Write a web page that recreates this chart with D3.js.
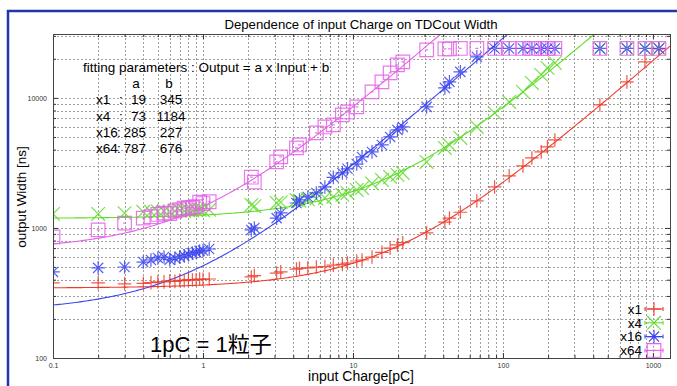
<!DOCTYPE html>
<html>
<head>
<meta charset="utf-8">
<script src="https://cdn.jsdelivr.net/npm/d3@7/dist/d3.min.js"></script>
<style>
  html, body { margin: 0; padding: 0; background: #fff; }
  svg { display: block; font-family: "Liberation Sans", Arial, Helvetica, sans-serif; }
</style>
</head>
<body>
<div id="chart"></div>
<script>
// input charge [pC], shared by all four gain settings
const charges = [0.1, 0.2, 0.3, 0.4, 0.45, 0.5, 0.55, 0.6, 0.65, 0.7, 0.75, 0.8, 0.85, 0.9, 0.95, 1.0, 1.1,
  2.1, 2.2, 3.1, 3.3, 4.2, 4.4, 5.0, 5.7, 6.5, 7.4, 8.5, 9.2, 10.6, 11.5, 13.4, 15.6, 17.7, 19.8, 21.5,
  31, 41, 44, 52, 67, 88, 110, 136, 156, 180, 198, 222, 443, 671, 885, 1097];

// output width [ns]
const widthX1 = [378, 378, 372, 375, 380, 385, 385, 390, 388, 395, 393, 400, 398, 400, 405, 402, 405,
  420, 430, 450, 460, 483, 490, 493, 500, 505, 518, 525, 537, 557, 567, 598, 650, 700, 740, 770,
  915, 1110, 1190, 1320, 1613, 2066, 2514, 3000, 3455, 3843, 4200, 4750, 8830, 13280, 18920, 23800];
const widthX4 = [1282, 1282, 1300, 1330, 1330, 1340, 1350, 1340, 1350, 1360, 1350, 1370, 1360, 1370, 1380, 1370, 1380,
  1503, 1470, 1556, 1580, 1642, 1620, 1660, 1680, 1700, 1740, 1800, 1858, 1960, 2030, 2200, 2340, 2468, 2560, 2650,
  3220, 4125, 4347, 4920, 5980, 7670, 9310, 11120, 13040, 15030, 17010, 18580, 24000, 24000, 24000, 24000];
const widthX16 = [459, 493, 501, 547, 567, 588, 598, 570, 585, 598, 610, 625, 640, 650, 665, 670, 689,
  965, 1000, 1190, 1304, 1556, 1642, 1731, 1858, 2066, 2450, 2650, 2850, 3100, 3518, 3843, 4347, 5010, 5670, 5980,
  8530, 11940, 13280, 15850, 20660, 24000, 24000, 24000, 24000, 24000, 24000, 24000, 24000, 24000, 24000, 24000];
const widthX64 = [853, 966, 1090, 1190, 1220, 1270, 1300, 1290, 1350, 1380, 1420, 1430, 1440, 1460, 1580, 1540, 1590,
  2457, 2250, 3220, 3518, 4125, 4347, null, 5380, 5980, 6200, 7400, 7800, 8530, null, 11120, 13280, 15570, 17930, 18920,
  23400, 23800, 23800, 24000, 24000, 24000, 24000, 24000, 24000, 24000, 24000, 24000, 24000, 24000, 24000, 24000];

const seriesNames = ['x1', 'x4', 'x16', 'x64'];
const seriesColors = ['#ee3b2b', '#5fdc2a', '#3a44ee', '#e660ea'];
const seriesMarkers = ['plus', 'cross', 'star', 'square'];
const seriesValues = [widthX1, widthX4, widthX16, widthX64];

// fitting parameters : Output = a x Input + b
const fitA = [19, 73, 285, 787];
const fitB = [345, 1184, 227, 676];

const xTicks = [0.1, 1, 10, 100, 1000];
const yTicks = [100, 1000, 10000];

const W = 677, H = 386;
const margin = { top: 34, right: 7, bottom: 28, left: 53 };
const xDomain = [0.1, 1300];
const yDomain = [100, 31000];

const svg = d3.select('#chart').append('svg')
  .attr('width', W)
  .attr('height', H);

// blue slide frame
svg.append('rect')
  .attr('x', 8).attr('y', 11)
  .attr('width', W + 20).attr('height', H + 20)
  .attr('fill', 'none')
  .attr('stroke', '#2236a8')
  .attr('stroke-width', 2.5);

const x = d3.scaleLog().domain(xDomain).range([margin.left, W - margin.right]);
const y = d3.scaleLog().domain(yDomain).range([H - margin.bottom, margin.top]);

const minorOf = (domain) => {
  const out = [];
  for (let d = domain[0]; d < domain[1]; d *= 10) {
    for (let k = 2; k <= 9; k++) {
      const v = +(k * d).toPrecision(6);
      if (v <= domain[1]) out.push(v);
    }
  }
  return out;
};
const xMinor = minorOf(xDomain);
const yMinor = minorOf(yDomain);

// grid
const grid = svg.append('g')
  .attr('stroke', '#a0a0a0')
  .attr('stroke-width', 1)
  .attr('stroke-dasharray', '2,2');

grid.selectAll('.gx')
  .data(xTicks.concat(xMinor).filter(v => v > xDomain[0]))
  .enter().append('line')
  .attr('x1', d => Math.round(x(d)) + 0.5).attr('x2', d => Math.round(x(d)) + 0.5)
  .attr('y1', y.range()[1]).attr('y2', y.range()[0]);

grid.selectAll('.gy')
  .data(yTicks.concat(yMinor).filter(v => v > yDomain[0]))
  .enter().append('line')
  .attr('y1', d => Math.round(y(d)) + 0.5).attr('y2', d => Math.round(y(d)) + 0.5)
  .attr('x1', x.range()[0]).attr('x2', x.range()[1]);

// axes (ticks pointing inwards, mirrored)
const fmt = d => (d < 1 ? d3.format('.1f')(d) : d3.format('d')(d));
const plotW = x.range()[1] - x.range()[0];
const plotH = y.range()[0] - y.range()[1];

const styleAxis = g => {
  g.select('.domain').remove();
  g.selectAll('line').attr('stroke', '#333');
  g.selectAll('text').attr('font-size', '7px').attr('fill', '#333')
    .attr('font-family', '"Liberation Sans", Arial, sans-serif');
};

svg.append('g')
  .attr('transform', `translate(0,${y.range()[0]})`)
  .call(d3.axisBottom(x).tickValues(xTicks).tickSize(-5).tickPadding(5).tickFormat(fmt))
  .call(styleAxis);
svg.append('g')
  .attr('transform', `translate(0,${y.range()[0]})`)
  .call(d3.axisBottom(x).tickValues(xMinor).tickSize(-3).tickFormat(''))
  .call(styleAxis);
svg.append('g')
  .attr('transform', `translate(0,${y.range()[1]})`)
  .call(d3.axisTop(x).tickValues(xTicks).tickSize(-5).tickFormat(''))
  .call(styleAxis);
svg.append('g')
  .attr('transform', `translate(0,${y.range()[1]})`)
  .call(d3.axisTop(x).tickValues(xMinor).tickSize(-3).tickFormat(''))
  .call(styleAxis);

svg.append('g')
  .attr('transform', `translate(${x.range()[0]},0)`)
  .call(d3.axisLeft(y).tickValues(yTicks).tickSize(-5).tickPadding(6).tickFormat(fmt))
  .call(styleAxis);
svg.append('g')
  .attr('transform', `translate(${x.range()[0]},0)`)
  .call(d3.axisLeft(y).tickValues(yMinor).tickSize(-3).tickFormat(''))
  .call(styleAxis);
svg.append('g')
  .attr('transform', `translate(${x.range()[1]},0)`)
  .call(d3.axisRight(y).tickValues(yTicks).tickSize(-5).tickFormat(''))
  .call(styleAxis);
svg.append('g')
  .attr('transform', `translate(${x.range()[1]},0)`)
  .call(d3.axisRight(y).tickValues(yMinor).tickSize(-3).tickFormat(''))
  .call(styleAxis);

// clip for curves
svg.append('clipPath').attr('id', 'plot-clip')
  .append('rect')
  .attr('x', x.range()[0]).attr('y', y.range()[1])
  .attr('width', plotW).attr('height', plotH);

const plot = svg.append('g').attr('clip-path', 'url(#plot-clip)');

// fit lines, evaluated from the fitting parameters
const fitX = d3.range(0, 301).map(i => xDomain[0] * Math.pow(xDomain[1] / xDomain[0], i / 300));
const fitLine = d3.line().x(d => x(d[0])).y(d => y(d[1]));

seriesNames.forEach((name, i) => {
  plot.append('path')
    .datum(fitX.map(v => [v, fitA[i] * v + fitB[i]]))
    .attr('fill', 'none')
    .attr('stroke', seriesColors[i])
    .attr('stroke-width', 1.1)
    .attr('d', fitLine);
});

const r = 6.8;
const markerPath = (type, cx, cy) => {
  const d = d3.path();
  if (type === 'plus' || type === 'star') {
    d.moveTo(cx - r, cy); d.lineTo(cx + r, cy);
    d.moveTo(cx, cy - r); d.lineTo(cx, cy + r);
  }
  if (type === 'cross' || type === 'star') {
    const s = type === 'star' ? r * 0.75 : r;
    d.moveTo(cx - s, cy - s); d.lineTo(cx + s, cy + s);
    d.moveTo(cx - s, cy + s); d.lineTo(cx + s, cy - s);
  }
  if (type === 'square') {
    d.rect(cx - r, cy - r, 2 * r, 2 * r);
    d.moveTo(cx - 1.5, cy); d.lineTo(cx + 1.5, cy);
  }
  return d.toString();
};

// data points
seriesNames.forEach((name, i) => {
  const pts = charges.map((c, j) => [c, seriesValues[i][j]]).filter(p => p[1] != null);
  plot.selectAll(null)
    .data(pts)
    .enter().append('path')
    .attr('d', p => markerPath(seriesMarkers[i], x(p[0]), y(p[1])))
    .attr('fill', 'none')
    .attr('stroke', seriesColors[i])
    .attr('stroke-opacity', 0.85)
    .attr('stroke-width', 1.2);
});

// frame
svg.append('rect')
  .attr('x', x.range()[0] + 0.5).attr('y', y.range()[1] + 0.5)
  .attr('width', plotW).attr('height', plotH)
  .attr('fill', 'none')
  .attr('stroke', '#444')
  .attr('stroke-width', 1);

// titles
svg.append('text')
  .attr('x', 361).attr('y', 29)
  .attr('text-anchor', 'middle')
  .attr('font-size', '13.2px')
  .text('Dependence of input Charge on TDCout Width');

svg.append('text')
  .attr('x', 361).attr('y', 381)
  .attr('text-anchor', 'middle')
  .attr('font-size', '14px')
  .text('input Charge[pC]');

svg.append('text')
  .attr('transform', 'translate(26,197) rotate(-90)')
  .attr('text-anchor', 'middle')
  .attr('font-size', '13.5px')
  .text('output Width [ns]');

// fitting parameter table
svg.append('text')
  .attr('x', 83).attr('y', 72)
  .attr('font-size', '13.5px')
  .text('fitting parameters : Output = a x Input + b');

const rowY0 = 88, rowStep = 16.3;
svg.append('text').attr('x', 136).attr('y', rowY0).attr('text-anchor', 'middle').attr('font-size', '13.5px').text('a');
svg.append('text').attr('x', 169).attr('y', rowY0).attr('text-anchor', 'middle').attr('font-size', '13.5px').text('b');

seriesNames.forEach((name, i) => {
  const ry = rowY0 + rowStep * (i + 1);
  const row = svg.append('g').attr('font-size', '13.5px');
  row.append('text').attr('x', 96).attr('y', ry).text(name);
  row.append('text').attr('x', name.length > 2 ? 117 : 119).attr('y', ry).text(':');
  row.append('text').attr('x', 146).attr('y', ry).attr('text-anchor', 'end').text(fitA[i]);
  row.append('text').attr('x', 171).attr('y', ry).attr('text-anchor', 'middle').text(fitB[i]);
});

svg.append('text')
  .attr('x', 150).attr('y', 352)
  .attr('font-size', '22px')
  .attr('font-family', '"Liberation Sans", Arial, "Noto Sans CJK JP", sans-serif')
  .text('1pC = 1粒子');

// legend
const legend = svg.append('g');
seriesNames.forEach((name, i) => {
  const ly = 309 + i * 13.8;
  legend.append('text')
    .attr('x', 642).attr('y', ly).attr('dy', '0.36em')
    .attr('text-anchor', 'end')
    .attr('font-size', '13.5px')
    .text(name);
  const g = legend.append('g')
    .attr('stroke', seriesColors[i])
    .attr('stroke-width', 1.1)
    .attr('fill', 'none');
  g.append('line').attr('x1', 645).attr('x2', 663).attr('y1', ly).attr('y2', ly);
  g.append('line').attr('x1', 645).attr('x2', 645).attr('y1', ly - 2).attr('y2', ly + 2);
  g.append('line').attr('x1', 663).attr('x2', 663).attr('y1', ly - 2).attr('y2', ly + 2);
  g.append('path').attr('d', markerPath(seriesMarkers[i], 654, ly));
});
</script>
</body>
</html>
